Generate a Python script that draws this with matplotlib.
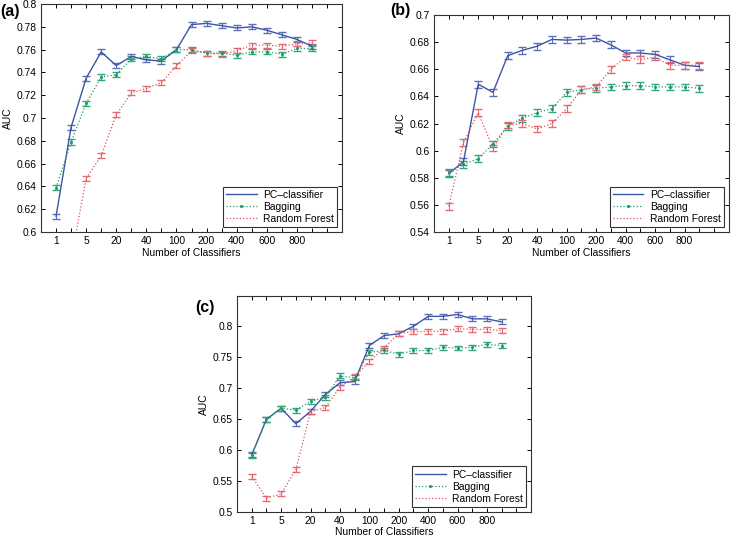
import matplotlib
matplotlib.use('Agg')
import matplotlib.pyplot as plt
from matplotlib.lines import Line2D
import numpy as np

plt.rcParams['font.family'] = ['Liberation Sans', 'DejaVu Sans']

x_labels = ['1', '', '5', '', '20', '', '40', '', '100', '', '200', '', '400', '', '600', '', '800', '', '']
n_points = 18

# panel (a)
pc_a = [0.614, 0.692, 0.735, 0.758, 0.746, 0.754, 0.751, 0.750, 0.760, 0.782,
        0.783, 0.781, 0.779, 0.780, 0.777, 0.773, 0.769, 0.763]
bag_a = [0.639, 0.679, 0.713, 0.736, 0.738, 0.752, 0.754, 0.752, 0.760, 0.760,
         0.757, 0.757, 0.755, 0.758, 0.758, 0.756, 0.761, 0.761]
rf_a = [0.550, 0.576, 0.647, 0.667, 0.703, 0.722, 0.726, 0.731, 0.746, 0.759,
        0.757, 0.756, 0.759, 0.764, 0.764, 0.763, 0.765, 0.766]

# panel (b)
pc_b = [0.583, 0.592, 0.649, 0.643, 0.670, 0.674, 0.677, 0.682, 0.6815, 0.682,
        0.683, 0.678, 0.672, 0.672, 0.671, 0.667, 0.663, 0.662]
bag_b = [0.584, 0.590, 0.594, 0.605, 0.618, 0.624, 0.628, 0.631, 0.643, 0.645,
         0.646, 0.647, 0.648, 0.648, 0.647, 0.647, 0.647, 0.646]
rf_b = [0.559, 0.606, 0.628, 0.602, 0.619, 0.620, 0.616, 0.620, 0.631, 0.645,
        0.647, 0.660, 0.669, 0.667, 0.669, 0.663, 0.663, 0.663]

# panel (c)
pc_c = [0.592, 0.649, 0.667, 0.642, 0.662, 0.689, 0.708, 0.710, 0.768, 0.784,
        0.787, 0.799, 0.815, 0.815, 0.818, 0.811, 0.811, 0.806]
bag_c = [0.591, 0.649, 0.667, 0.664, 0.678, 0.685, 0.719, 0.716, 0.757, 0.760,
         0.754, 0.760, 0.760, 0.765, 0.764, 0.765, 0.770, 0.768]
rf_c = [0.557, 0.522, 0.529, 0.568, 0.661, 0.668, 0.701, 0.718, 0.742, 0.764,
        0.788, 0.790, 0.791, 0.791, 0.795, 0.794, 0.794, 0.792]

err_a = 0.0022
err_b = 0.0025
err_c = 0.004

blue = '#3d55a5'
green = '#1f9a6a'
red = '#e0505e'
fs = 7.4

fig = plt.figure(figsize=(7.35, 5.36), dpi=100)

panels = [
    ('(a)', [0.0558, 0.567, 0.4095, 0.4255], pc_a, bag_a, rf_a, err_a,
     (0.6, 0.8), np.arange(0.6, 0.801, 0.02), (0.0, 0.970)),
    ('(b)', [0.5905, 0.567, 0.401, 0.405], pc_b, bag_b, rf_b, err_b,
     (0.54, 0.7), np.arange(0.54, 0.701, 0.02), (0.531, 0.972)),
    ('(c)', [0.3225, 0.045, 0.400, 0.403], pc_c, bag_c, rf_c, err_c,
     (0.5, 0.848), np.arange(0.5, 0.801, 0.05), (0.266, 0.418)),
]

x = np.arange(1, n_points + 1)

for label, rect, pc, bag, rf, err, ylim, yticks, lpos in panels:
    ax = fig.add_axes(rect)
    ax.errorbar(x, pc, yerr=err, color=blue, lw=1.0, capsize=2.8,
                elinewidth=0.8, ecolor='#5a6fb8')
    ax.errorbar(x, bag, yerr=err, color=green, ls=':', lw=0.9, marker='.',
                ms=2.5, capsize=2.8, elinewidth=0.8, ecolor='#30a878')
    ax.errorbar(x, rf, yerr=err, color=red, ls=':', lw=0.9, capsize=2.8,
                elinewidth=0.8, ecolor='#e66a74')
    ax.set_xlim(0, 20)
    ax.set_ylim(*ylim)
    ax.set_xticks(np.arange(1, 20))
    ax.set_xticklabels(x_labels)
    ax.set_yticks(yticks)
    ax.set_yticklabels(['{:g}'.format(round(v, 2)) for v in yticks])
    ax.tick_params(direction='in', top=True, right=True, length=3,
                   labelsize=fs, width=0.7, pad=3)
    for s in ax.spines.values():
        s.set_linewidth(0.8)
        s.set_color('#333333')
    ax.set_xlabel('Number of Classifiers', fontsize=fs, labelpad=1)
    ax.set_ylabel('AUC', fontsize=fs, labelpad=3)
    handles = [Line2D([], [], color=blue, lw=1.0),
               Line2D([], [], color=green, ls=':', lw=0.9, marker='.', ms=2.5),
               Line2D([], [], color=red, ls=':', lw=0.9)]
    leg = ax.legend(handles, ['PC\u2013classifier', 'Bagging', 'Random Forest'],
                    loc='lower right', fontsize=fs, fancybox=False,
                    edgecolor='#333333', framealpha=1, handlelength=3.0,
                    handletextpad=0.6, borderaxespad=0.5, labelspacing=0.2,
                    borderpad=0.3)
    leg.get_frame().set_linewidth(0.8)
    fig.text(lpos[0], lpos[1], label, fontsize=11.5, fontweight='bold')

fig.savefig('out.png', dpi=100)
